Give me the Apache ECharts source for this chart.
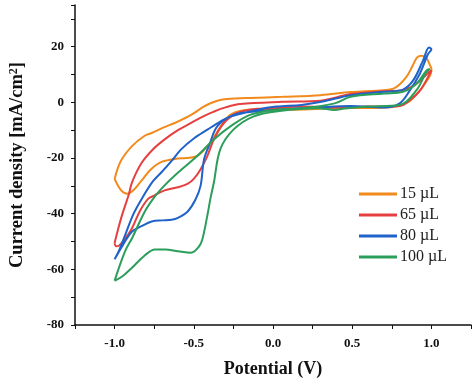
<!DOCTYPE html>
<html><head><meta charset="utf-8">
<script src="https://cdn.jsdelivr.net/npm/echarts@6/dist/echarts.min.js"></script>
<style>html,body{margin:0;padding:0;background:#fff}#c{width:474px;height:383px}</style>
</head><body><div id="c"></div>
<script>
const seriesNames = ['15 µL', '65 µL', '80 µL', '100 µL'];
const seriesColors = ['#f28a1c', '#e5403f', '#1f62c9', '#2b9e5a'];
const xTickLabels = ['-1.0', '-0.5', '0.0', '0.5', '1.0'];
const yTickLabels = ['-80', '-60', '-40', '-20', '0', '20'];

// 15 µL: potential (V) and current density (mA/cm2), around the loop
const e15 = [-1.0,-0.96,-0.89,-0.81,-0.766,-0.69,-0.62,-0.517,-0.44,-0.395,-0.34,-0.29,-0.145,0.06,0.3,0.49,0.7,0.77,0.84,0.88,0.91,0.94,0.97,0.99,1.0,
  1.0,0.95,0.9,0.85,0.78,0.65,0.5,0.3,0.1,-0.06,-0.2,-0.27,-0.33,-0.395,-0.477,-0.55,-0.6,-0.7,-0.77,-0.83,-0.88,-0.92,-0.96,-1.0];
const j15 = [-27.5,-21,-15.7,-12,-11,-9,-7.4,-4.5,-1.6,-0.3,0.8,1.2,1.6,2.0,2.6,3.7,4.4,5.2,9,13,16.2,16.8,15.8,13.5,12,
  11.5,6,2.5,0,-1.5,-2,-2,-2.3,-2.6,-2.5,-3,-4.5,-8.6,-14.5,-19.2,-20,-20.2,-21.3,-24,-28.1,-31.5,-32.8,-31.5,-27.5];

// 65 µL
const e65 = [-1.0,-0.98,-0.953,-0.91,-0.89,-0.83,-0.76,-0.684,-0.6,-0.517,-0.44,-0.373,-0.3,-0.207,0.06,0.3,0.49,0.7,0.82,0.9,0.96,0.99,1.0,
  0.99,0.93,0.865,0.8,0.6,0.39,0.18,0,-0.1,-0.228,-0.31,-0.373,-0.414,-0.457,-0.5,-0.54,-0.6,-0.684,-0.75,-0.787,-0.84,-0.89,-0.94,-0.973,-0.99,-1.0];
const j65 = [-50.5,-46,-40.5,-33,-28.7,-21.8,-17,-13.3,-10,-7.4,-5,-3.3,-1.8,-0.6,0.2,0.6,3,4,4.4,6.5,9.5,11.2,11.4,
  10.3,4.4,0.8,-1.3,-1.5,-1.8,-1.5,-2.1,-2.3,-3.9,-7.4,-13.3,-19.2,-24,-27.5,-29.3,-30.5,-31.6,-33.5,-34.6,-39,-45.2,-49.5,-51.5,-51.7,-50.5];

// 80 µL
const e80 = [-1.0,-0.97,-0.933,-0.88,-0.828,-0.76,-0.704,-0.64,-0.58,-0.5,-0.414,-0.33,-0.269,-0.104,0.02,0.18,0.306,0.49,0.7,0.82,0.885,0.947,0.985,1.0,
  0.978,0.927,0.865,0.8,0.7,0.49,0.285,0,-0.15,-0.25,-0.352,-0.4,-0.435,-0.457,-0.49,-0.54,-0.6,-0.64,-0.7,-0.766,-0.83,-0.89,-0.95,-1.0];
const j80 = [-56.4,-53,-47.6,-40,-34.6,-28.5,-25.1,-21,-16.9,-13,-9.8,-6.8,-5.1,-2.7,-1.5,-0.9,0.2,2.6,3.8,4.6,7.9,15,19.7,19.1,
  17.3,10.3,4.4,-0.35,-1.8,-1.3,-1.8,-2.7,-3.5,-4.5,-8.6,-15,-20.4,-29.9,-35,-39.3,-41.5,-42.2,-42.4,-42.8,-44.5,-46.4,-51.5,-56.4];

// 100 µL
const e100 = [-1.0,-0.97,-0.93,-0.89,-0.81,-0.756,-0.704,-0.62,-0.477,-0.373,-0.269,-0.145,0,0.18,0.39,0.49,0.7,0.82,0.906,0.968,0.99,
  0.968,0.906,0.8,0.6,0.45,0.39,0.285,0.04,-0.125,-0.25,-0.333,-0.373,-0.395,-0.414,-0.445,-0.466,-0.517,-0.6,-0.68,-0.745,-0.81,-0.89,-0.95,-1.0];
const j100 = [-64.1,-59,-53,-48.8,-39.3,-34.6,-31,-26.3,-19.2,-13.3,-8.6,-4.5,-2.7,-2.1,-0.35,2,3.2,3.8,6.7,11.4,12,
  10.9,4.4,-0.9,-1.5,-2.2,-2.7,-2.1,-3.1,-5.1,-9.8,-16.9,-28.7,-34.6,-40.5,-49,-51.7,-54,-53.5,-52.9,-52.9,-55,-59.4,-62.5,-64.1];

const xs = [e15, e65, e80, e100];
const ys = [j15, j65, j80, j100];
const zip = (a, b) => a.map((v, i) => [v, b[i]]);

const chart = echarts.init(document.getElementById('c'), null, {renderer: 'canvas'});
const serif = '"Liberation Serif", "Times New Roman", serif';
chart.setOption({
  animation: false,
  backgroundColor: '#ffffff',
  grid: {left: 69, right: 2, top: 5, bottom: 55},
  xAxis: {
    type: 'value', min: -1.25, max: 1.25, interval: 0.25,
    name: 'Potential (V)', nameLocation: 'middle', nameGap: 35,
    nameTextStyle: {fontFamily: serif, fontWeight: 'bold', fontSize: 18, color: '#111'},
    axisLine: {show: true, onZero: false, lineStyle: {color: '#111', width: 1.5}},
    axisTick: {show: true, length: 4, lineStyle: {color: '#111'}},
    splitLine: {show: false},
    axisLabel: {
      fontFamily: serif, fontWeight: 'bold', fontSize: 13, color: '#111', margin: 12,
      formatter: v => { const s = v.toFixed(1); return (Math.abs(v * 2 - Math.round(v * 2)) < 1e-6 && xTickLabels.includes(s)) ? s : ''; }
    }
  },
  yAxis: {
    type: 'value', min: -80, max: 35, interval: 10,
    name: 'Current density [mA/cm{sup|2}]', nameLocation: 'middle', nameGap: 48, nameRotate: 90,
    nameTextStyle: {fontFamily: serif, fontWeight: 'bold', fontSize: 18.5, color: '#111',
      rich: {sup: {fontFamily: serif, fontWeight: 'bold', fontSize: 12, verticalAlign: 'top', lineHeight: 12, padding: [0,0,8,0], color: '#111'}}},
    axisLine: {show: true, onZero: false, lineStyle: {color: '#111', width: 1.5}},
    axisTick: {show: true, length: 4, lineStyle: {color: '#111'}},
    splitLine: {show: false},
    axisLabel: {
      fontFamily: serif, fontWeight: 'bold', fontSize: 13, color: '#111', margin: 11,
      formatter: v => yTickLabels.includes(String(v)) ? String(v) : ''
    }
  },
  legend: {
    orient: 'vertical', left: 354, top: 181,
    icon: 'rect', itemWidth: 38, itemHeight: 3, itemGap: 5,
    textStyle: {fontFamily: serif, fontSize: 16, color: '#222', lineHeight: 16, padding: [0,0,0,-2]},
    data: seriesNames
  },
  series: seriesNames.map((n, i) => ({
    name: n, type: 'line', data: zip(xs[i], ys[i]),
    showSymbol: false, symbol: 'none', smooth: 0.35,
    lineStyle: {color: seriesColors[i], width: 2},
    itemStyle: {color: seriesColors[i]}
  }))
});
</script></body></html>
